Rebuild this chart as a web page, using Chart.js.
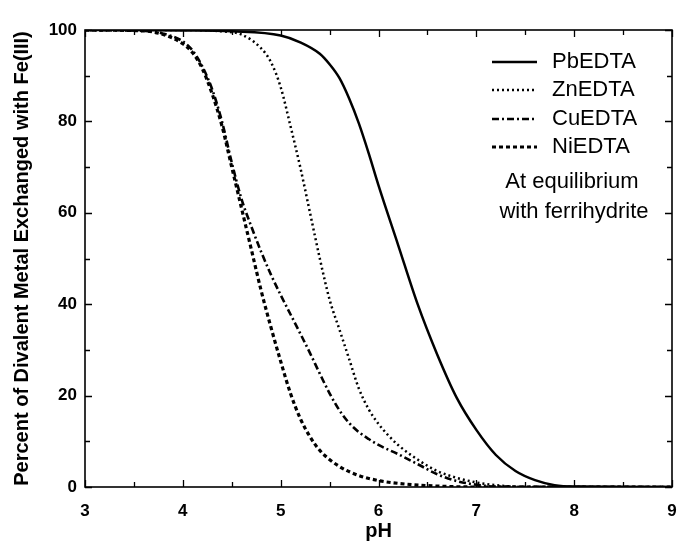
<!DOCTYPE html>
<html>
<head>
<meta charset="utf-8">
<script src="https://cdn.jsdelivr.net/npm/chart.js@4/dist/chart.umd.min.js"></script>
<style>
html,body{margin:0;padding:0;background:#fff;}
#wrap{width:678px;height:548px;}
</style>
</head>
<body>
<div id="wrap"><canvas id="c" width="678" height="548"></canvas></div>
<script>
// ---- data ----
const seriesNames = ["PbEDTA", "ZnEDTA", "CuEDTA", "NiEDTA"];
const pbPH  = [3, 4, 4.5, 5, 5.2, 5.4, 5.5, 5.6, 5.7, 5.8, 5.9, 6.0, 6.2, 6.4, 6.6, 6.8, 7.0, 7.2, 7.4, 7.6, 7.8, 8.0, 9];
const pbPct = [100, 99.9, 99.7, 98.8, 97.3, 94.8, 92.5, 89.5, 85, 79.5, 73, 66, 53, 40, 29, 19.5, 12.5, 7, 3.5, 1.5, 0.4, 0.1, 0];
const znPH  = [3, 4, 4.4, 4.6, 4.8, 4.9, 5.0, 5.1, 5.2, 5.3, 5.4, 5.5, 5.6, 5.7, 5.8, 5.9, 6.0, 6.1, 6.2, 6.4, 6.6, 6.8, 7.0, 7.2, 7.5, 9];
const znPct = [100, 100, 99.7, 99, 96, 93, 87.5, 79, 70, 60, 50, 41, 34.5, 28, 21.5, 17, 13.8, 11.3, 9.2, 6, 3.5, 2, 1, 0.4, 0, 0];
const cuPH  = [3, 3.6, 3.8, 4.0, 4.1, 4.2, 4.3, 4.4, 4.5, 4.6, 4.7, 4.8, 4.9, 5.0, 5.1, 5.2, 5.3, 5.4, 5.5, 5.6, 5.7, 5.8, 5.9, 6.0, 6.2, 6.4, 6.6, 6.8, 7.0, 7.2, 9];
const cuPct = [100, 99.8, 99.2, 97.5, 95.5, 92, 87, 80, 71, 63, 57, 51.5, 46.5, 42, 37.8, 33.6, 29.3, 24.8, 20.5, 16.8, 14, 12, 10.5, 9.2, 7.2, 5, 2.8, 1.3, 0.5, 0.1, 0];
const niPH  = [3, 3.6, 3.8, 4.0, 4.1, 4.2, 4.3, 4.4, 4.5, 4.6, 4.7, 4.8, 4.9, 5.0, 5.1, 5.2, 5.3, 5.4, 5.6, 5.8, 6.0, 6.2, 6.5, 7, 9];
const niPct = [100, 99.8, 99, 97, 95, 91.5, 86, 79, 70, 61, 52, 43, 35, 27.5, 20.5, 15, 11, 8, 4.5, 2.5, 1.4, 0.8, 0.3, 0, 0];
const xTicks = [3, 4, 5, 6, 7, 8, 9];
const yTicks = [0, 20, 40, 60, 80, 100];
const xTitle = "pH";
const yTitle = "Percent of Divalent Metal Exchanged with Fe(III)";
const noteLines = ["At equilibrium", "with ferrihydrite"];

function pts(xs, ys) { return xs.map((x, i) => ({x: x, y: ys[i]})); }

const styles = [
  {borderWidth: 2.5, borderDash: []},
  {borderWidth: 2.5, borderDash: [2, 3]},
  {borderWidth: 2.6, borderDash: [7, 3, 2, 3]},
  {borderWidth: 3.2, borderDash: [4, 3]}
];
const allData = [pts(pbPH, pbPct), pts(znPH, znPct), pts(cuPH, cuPct), pts(niPH, niPct)];

const datasets = seriesNames.map((n, i) => ({
  label: n,
  data: allData[i],
  borderColor: "#000",
  backgroundColor: "#000",
  borderWidth: styles[i].borderWidth,
  borderDash: styles[i].borderDash,
  pointRadius: 0,
  fill: false,
  cubicInterpolationMode: "monotone"
}));

const FONT = "'Liberation Sans', Arial, Helvetica, sans-serif";

const framePlugin = {
  id: "frame",
  afterDatasetsDraw(chart) {
    const ctx = chart.ctx;
    const a = chart.chartArea;
    const xs = chart.scales.x, ys = chart.scales.y;
    ctx.save();
    ctx.strokeStyle = "#000";
    ctx.setLineDash([]);
    ctx.lineWidth = 1.6;
    ctx.strokeRect(a.left, a.top, a.right - a.left, a.bottom - a.top);
    ctx.lineWidth = 1.3;
    for (let v = 3; v <= 9.001; v += 0.5) {
      const px = Math.round(xs.getPixelForValue(v)) + 0.5;
      const major = Math.abs(v - Math.round(v)) < 1e-6;
      const L = major ? 7 : 5;
      ctx.beginPath();
      ctx.moveTo(px, a.bottom); ctx.lineTo(px, a.bottom - L);
      ctx.moveTo(px, a.top); ctx.lineTo(px, a.top + L);
      ctx.stroke();
    }
    for (let v = 0; v <= 100.001; v += 10) {
      const py = Math.round(ys.getPixelForValue(v)) + 0.5;
      const major = v % 20 === 0;
      const L = major ? 7 : 5;
      ctx.beginPath();
      ctx.moveTo(a.left, py); ctx.lineTo(a.left + L, py);
      ctx.moveTo(a.right, py); ctx.lineTo(a.right - L, py);
      ctx.stroke();
    }
    const rows = [62, 90, 119, 147];
    ctx.fillStyle = "#000";
    ctx.font = "22px " + FONT;
    ctx.textBaseline = "middle";
    ctx.textAlign = "left";
    datasets.forEach((d, i) => {
      ctx.lineWidth = d.borderWidth;
      ctx.setLineDash(d.borderDash);
      ctx.beginPath();
      ctx.moveTo(492, rows[i]); ctx.lineTo(537, rows[i]);
      ctx.stroke();
      ctx.setLineDash([]);
      ctx.fillText(d.label, 552, rows[i]);
    });
    ctx.textAlign = "center";
    ctx.fillText(noteLines[0], 572, 182);
    ctx.fillText(noteLines[1], 574, 212);
    ctx.restore();
  }
};

new Chart(document.getElementById("c"), {
  type: "line",
  data: {datasets: datasets},
  options: {
    responsive: false,
    devicePixelRatio: 1,
    animation: false,
    layout: {padding: {top: 30, right: 6, left: 0, bottom: 0}},
    plugins: {legend: {display: false}, tooltip: {enabled: false}},
    scales: {
      x: {
        type: "linear", min: 3, max: 9,
        afterBuildTicks: s => { s.ticks = xTicks.map(v => ({value: v})); },
        afterFit: s => { s.height = 61; s.paddingLeft = 0; s.paddingRight = 0; },
        grid: {display: false, drawTicks: false},
        border: {display: false},
        ticks: {color: "#000", padding: 14, font: {family: FONT, size: 17, weight: "bold"}, maxRotation: 0},
        title: {display: true, text: xTitle, color: "#000", font: {family: FONT, size: 20, weight: "bold"}, padding: {top: 0, bottom: 5}}
      },
      y: {
        type: "linear", min: 0, max: 100,
        afterBuildTicks: s => { s.ticks = yTicks.map(v => ({value: v})); },
        afterFit: s => { s.width = 85; s.paddingTop = 0; s.paddingBottom = 0; },
        grid: {display: false, drawTicks: false},
        border: {display: false},
        ticks: {color: "#000", padding: 8, font: {family: FONT, size: 17, weight: "bold"}},
        title: {display: true, text: yTitle, color: "#000", font: {family: FONT, size: 20, weight: "bold"}, padding: {top: 10, bottom: 0}}
      }
    }
  },
  plugins: [framePlugin]
});
</script>
</body>
</html>
